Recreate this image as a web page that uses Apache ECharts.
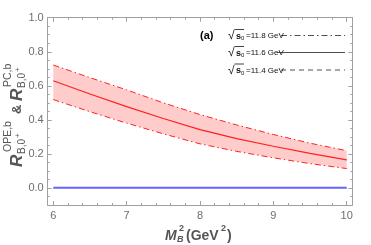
<!DOCTYPE html>
<html><head><meta charset="utf-8">
<script src="https://cdn.jsdelivr.net/npm/echarts@6/dist/echarts.min.js"></script>
<style>html,body{margin:0;padding:0;background:#fff}#c{width:371px;height:245px}</style>
</head><body><div id="c"></div>
<script>
const xVals = [6, 6.5, 7, 7.5, 8, 8.5, 9, 9.5, 10];
const centerVals = [0.630, 0.552, 0.478, 0.408, 0.343, 0.290, 0.245, 0.203, 0.165];
const upperVals  = [0.722, 0.648, 0.576, 0.500, 0.431, 0.370, 0.314, 0.263, 0.219];
const lowerVals  = [0.519, 0.448, 0.381, 0.318, 0.259, 0.215, 0.177, 0.143, 0.114];
const blueVals   = [0.002, 0.002, 0.002, 0.002, 0.002, 0.002, 0.002, 0.002, 0.002];
const xTickLabels = [6, 7, 8, 9, 10];
const yTickLabels = [0.0, 0.2, 0.4, 0.6, 0.8, 1.0];
const xMinorTicks = [6.2,6.4,6.6,6.8,7.2,7.4,7.6,7.8,8.2,8.4,8.6,8.8,9.2,9.4,9.6,9.8];
const yMinorTicks = [-0.05,0.05,0.1,0.15,0.25,0.3,0.35,0.45,0.5,0.55,0.65,0.7,0.75,0.85,0.9,0.95];
const legendLabels = ['=11.8 GeV', '=11.6 GeV', '=11.4 GeV'];

const pts = a => xVals.map((x, i) => [x, a[i]]);

const FRAME = '#a0a0a0', LBL = '#6e6e6e';
const XMIN = 5.924, XMAX = 10.076, YMIN = -0.1, YMAX = 1.0;

function xAx(pos, custom, len, showLabel, showLine) {
  return {type:'value', position:pos, min:XMIN, max:XMAX, splitLine:{show:false},
    axisLine:{show:showLine, onZero:false, lineStyle:{color:FRAME, width:1}},
    axisTick:{show:true, inside:true, length:len, customValues:custom, lineStyle:{color:FRAME}},
    axisLabel:{show:showLabel, customValues:custom, color:LBL, fontSize:11, fontFamily:'Liberation Sans', margin:5}};
}
function yAx(pos, custom, len, showLabel, showLine) {
  return {type:'value', position:pos, min:YMIN, max:YMAX, splitLine:{show:false},
    axisLine:{show:showLine, onZero:false, lineStyle:{color:FRAME, width:1}},
    axisTick:{show:true, inside:true, length:len, customValues:custom, lineStyle:{color:FRAME}},
    axisLabel:{show:showLabel, customValues:custom, color:LBL, fontSize:11, fontFamily:'Liberation Sans', margin:4,
      formatter: v => v.toFixed(1)}};
}

const chart = echarts.init(document.getElementById('c'), null, {renderer:'canvas'});
const legY = [35.5, 52.5, 70];
const legDash = [[6,3,1.5,3], 'solid', [5,4]];
const legLineStart = [281, 277, 281];
const graphics = [];
legY.forEach((y, i) => {
  graphics.push({type:'text', x:228, y:y+0.5, style:{text:'√', font:'12px "Liberation Sans"', fill:'#111', verticalAlign:'middle'}});
  graphics.push({type:'line', shape:{x1:234.5, y1:y-6, x2:244, y2:y-6}, style:{stroke:'#111', lineWidth:0.8}});
  graphics.push({type:'text', x:236, y:y+1, style:{text:'s', font:'bold 9px "Liberation Sans"', fill:'#111', verticalAlign:'middle'}});
  graphics.push({type:'text', x:241, y:y+3, style:{text:'0', font:'6px "Liberation Sans"', fill:'#111', verticalAlign:'middle'}});
  graphics.push({type:'text', x:246, y:y+0.5, style:{text:legendLabels[i], font:'8px "Liberation Sans"', fill:'#111', verticalAlign:'middle'}});
  graphics.push({type:'line', shape:{x1:legLineStart[i], y1:y, x2:345, y2:y}, style:{stroke:'#222', lineWidth:0.8, lineDash:legDash[i]}});
});
graphics.push({type:'text', x:200, y:36, style:{text:'(a)', font:'bold 11px "Liberation Sans"', fill:'#000', verticalAlign:'middle'}});

// y-axis title (rotated)
const TC = '#555';
graphics.push({type:'group', x:17, y:167, rotation:Math.PI/2, children:[
  {type:'text', x:0, y:0, style:{text:'R', font:'italic bold 17px "Liberation Sans"', fill:TC, verticalAlign:'middle'}},
  {type:'text', x:15, y:-9, style:{text:'OPE,b', font:'10.5px "Liberation Sans"', fill:TC, verticalAlign:'middle'}},
  {type:'text', x:13, y:5, style:{text:'B,0', font:'10px "Liberation Sans"', fill:TC, verticalAlign:'middle'}},
  {type:'text', x:29, y:1, style:{text:'+', font:'8px "Liberation Sans"', fill:TC, verticalAlign:'middle'}},
  {type:'text', x:53, y:0, style:{text:'&', font:'bold 13px "Liberation Sans"', fill:TC, verticalAlign:'middle'}},
  {type:'text', x:66, y:0, style:{text:'R', font:'italic bold 17px "Liberation Sans"', fill:TC, verticalAlign:'middle'}},
  {type:'text', x:80, y:-9, style:{text:'PC,b', font:'10.5px "Liberation Sans"', fill:TC, verticalAlign:'middle'}},
  {type:'text', x:79, y:5, style:{text:'B,0', font:'10px "Liberation Sans"', fill:TC, verticalAlign:'middle'}},
  {type:'text', x:95, y:1, style:{text:'+', font:'8px "Liberation Sans"', fill:TC, verticalAlign:'middle'}}
]});
// x-axis title
graphics.push({type:'text', x:165, y:236, style:{text:'M', font:'italic bold 14px "Liberation Sans"', fill:TC, verticalAlign:'middle'}});
graphics.push({type:'text', x:177, y:240, style:{text:'B', font:'italic bold 9px "Liberation Sans"', fill:TC, verticalAlign:'middle'}});
graphics.push({type:'text', x:179, y:229, style:{text:'2', font:'bold 9px "Liberation Sans"', fill:TC, verticalAlign:'middle'}});
graphics.push({type:'text', x:186, y:236, style:{text:'(GeV', font:'bold 14px "Liberation Sans"', fill:TC, verticalAlign:'middle'}});
graphics.push({type:'text', x:221, y:229, style:{text:'2', font:'bold 9px "Liberation Sans"', fill:TC, verticalAlign:'middle'}});
graphics.push({type:'text', x:227, y:236, style:{text:')', font:'bold 14px "Liberation Sans"', fill:TC, verticalAlign:'middle'}});

chart.setOption({
  animation:false,
  grid:{left:47.7, right:18.7, top:17.7, bottom:40, containLabel:false},
  xAxis:[
    xAx('bottom', xTickLabels, 4, true, true),
    xAx('bottom', xMinorTicks, 2, false, false),
    xAx('top', xTickLabels, 4, false, true),
    xAx('top', xMinorTicks, 2, false, false)
  ],
  yAxis:[
    yAx('left', yTickLabels, 4, true, true),
    yAx('left', yMinorTicks, 2, false, false),
    yAx('right', yTickLabels, 4, false, true),
    yAx('right', yMinorTicks, 2, false, false)
  ],
  series:[
    {type:'custom', data:[[0]], silent:true, z:1,
      renderItem:function(params, api){
        const top = xVals.map((x, i) => api.coord([x, upperVals[i]]));
        const bot = xVals.map((x, i) => api.coord([x, lowerVals[i]])).reverse();
        return {type:'polygon', shape:{points: top.concat(bot)}, style:{fill:'#ffcccc', stroke:null}};
      }},
    {type:'line', data:pts(upperVals), symbol:'none', lineStyle:{color:'#ff2020', width:1, type:[6,3,1.5,3]}},
    {type:'line', data:pts(lowerVals), symbol:'none', lineStyle:{color:'#ff2020', width:1, type:[6,3,1.5,3]}},
    {type:'line', data:pts(centerVals), symbol:'none', lineStyle:{color:'#ff2020', width:1.2}},
    {type:'line', data:pts(blueVals), symbol:'none', lineStyle:{color:'#6464ff', width:2}}
  ],
  graphic:graphics
});
</script></body></html>
